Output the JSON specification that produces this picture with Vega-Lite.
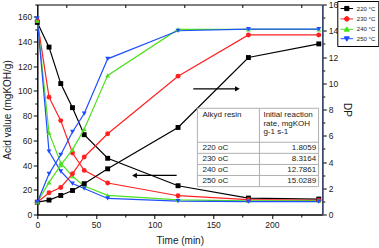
{
  "$schema": "https://vega.github.io/schema/vega-lite/v6.json",
  "width": 285,
  "height": 210,
  "autosize": "none",
  "padding": {"left": 37.3, "top": 4.5, "right": 56.7, "bottom": 33.5},
  "config": {
    "font": "Liberation Sans",
    "view": {"stroke": "black", "strokeWidth": 1},
    "axis": {
      "labelFont": "Liberation Sans",
      "titleFont": "Liberation Sans",
      "labelFontSize": 8.5,
      "titleFontSize": 10,
      "titleFontWeight": "normal",
      "labelColor": "#1a1a1a",
      "titleColor": "#1a1a1a",
      "domainColor": "black",
      "tickColor": "black",
      "grid": false,
      "labelOverlap": false,
      "labelFlush": false
    }
  },
  "datasets": {
    "curves": [
      {"t": 0, "series": "220 °C", "m": "acid", "v": 155.5},
      {"t": 10, "series": "220 °C", "m": "acid", "v": 135.5},
      {"t": 20, "series": "220 °C", "m": "acid", "v": 106},
      {"t": 30, "series": "220 °C", "m": "acid", "v": 86.5},
      {"t": 40, "series": "220 °C", "m": "acid", "v": 64.6},
      {"t": 60, "series": "220 °C", "m": "acid", "v": 45.5},
      {"t": 120, "series": "220 °C", "m": "acid", "v": 23.3},
      {"t": 180, "series": "220 °C", "m": "acid", "v": 13.3},
      {"t": 240, "series": "220 °C", "m": "acid", "v": 12.5},
      {"t": 0, "series": "230 °C", "m": "acid", "v": 157},
      {"t": 10, "series": "230 °C", "m": "acid", "v": 95},
      {"t": 20, "series": "230 °C", "m": "acid", "v": 76},
      {"t": 30, "series": "230 °C", "m": "acid", "v": 49.8},
      {"t": 40, "series": "230 °C", "m": "acid", "v": 35.7},
      {"t": 60, "series": "230 °C", "m": "acid", "v": 25.5},
      {"t": 120, "series": "230 °C", "m": "acid", "v": 15.2},
      {"t": 180, "series": "230 °C", "m": "acid", "v": 12},
      {"t": 240, "series": "230 °C", "m": "acid", "v": 11.5},
      {"t": 0, "series": "240 °C", "m": "acid", "v": 157},
      {"t": 10, "series": "240 °C", "m": "acid", "v": 66},
      {"t": 20, "series": "240 °C", "m": "acid", "v": 41.7},
      {"t": 30, "series": "240 °C", "m": "acid", "v": 31},
      {"t": 40, "series": "240 °C", "m": "acid", "v": 23},
      {"t": 60, "series": "240 °C", "m": "acid", "v": 15.5},
      {"t": 120, "series": "240 °C", "m": "acid", "v": 11.8},
      {"t": 180, "series": "240 °C", "m": "acid", "v": 11},
      {"t": 240, "series": "240 °C", "m": "acid", "v": 11},
      {"t": 0, "series": "250 °C", "m": "acid", "v": 158.5},
      {"t": 10, "series": "250 °C", "m": "acid", "v": 51},
      {"t": 20, "series": "250 °C", "m": "acid", "v": 35},
      {"t": 30, "series": "250 °C", "m": "acid", "v": 25},
      {"t": 40, "series": "250 °C", "m": "acid", "v": 21},
      {"t": 60, "series": "250 °C", "m": "acid", "v": 13},
      {"t": 120, "series": "250 °C", "m": "acid", "v": 10.8},
      {"t": 180, "series": "250 °C", "m": "acid", "v": 10.5},
      {"t": 240, "series": "250 °C", "m": "acid", "v": 10.5},
      {"t": 0, "series": "220 °C", "m": "dp", "v": 0.94},
      {"t": 10, "series": "220 °C", "m": "dp", "v": 1.1},
      {"t": 20, "series": "220 °C", "m": "dp", "v": 1.45},
      {"t": 30, "series": "220 °C", "m": "dp", "v": 1.83},
      {"t": 40, "series": "220 °C", "m": "dp", "v": 2.35},
      {"t": 60, "series": "220 °C", "m": "dp", "v": 3.48},
      {"t": 120, "series": "220 °C", "m": "dp", "v": 6.63},
      {"t": 180, "series": "220 °C", "m": "dp", "v": 11.96},
      {"t": 240, "series": "220 °C", "m": "dp", "v": 13.0},
      {"t": 0, "series": "230 °C", "m": "dp", "v": 0.94},
      {"t": 10, "series": "230 °C", "m": "dp", "v": 1.66},
      {"t": 20, "series": "230 °C", "m": "dp", "v": 2.06},
      {"t": 30, "series": "230 °C", "m": "dp", "v": 3.1},
      {"t": 40, "series": "230 °C", "m": "dp", "v": 4.38},
      {"t": 60, "series": "230 °C", "m": "dp", "v": 6.15},
      {"t": 120, "series": "230 °C", "m": "dp", "v": 10.54},
      {"t": 180, "series": "230 °C", "m": "dp", "v": 13.68},
      {"t": 240, "series": "230 °C", "m": "dp", "v": 13.68},
      {"t": 0, "series": "240 °C", "m": "dp", "v": 0.94},
      {"t": 10, "series": "240 °C", "m": "dp", "v": 2.45},
      {"t": 20, "series": "240 °C", "m": "dp", "v": 3.76},
      {"t": 30, "series": "240 °C", "m": "dp", "v": 4.94},
      {"t": 40, "series": "240 °C", "m": "dp", "v": 6.5},
      {"t": 60, "series": "240 °C", "m": "dp", "v": 10.6},
      {"t": 120, "series": "240 °C", "m": "dp", "v": 14.1},
      {"t": 180, "series": "240 °C", "m": "dp", "v": 14.1},
      {"t": 240, "series": "240 °C", "m": "dp", "v": 14.1},
      {"t": 0, "series": "250 °C", "m": "dp", "v": 0.94},
      {"t": 10, "series": "250 °C", "m": "dp", "v": 3.1},
      {"t": 20, "series": "250 °C", "m": "dp", "v": 4.55},
      {"t": 30, "series": "250 °C", "m": "dp", "v": 6.29},
      {"t": 40, "series": "250 °C", "m": "dp", "v": 7.69},
      {"t": 60, "series": "250 °C", "m": "dp", "v": 11.86},
      {"t": 120, "series": "250 °C", "m": "dp", "v": 14.0},
      {"t": 180, "series": "250 °C", "m": "dp", "v": 14.12},
      {"t": 240, "series": "250 °C", "m": "dp", "v": 14.12}
    ],
    "rates": [
      {"row": 1, "resin": "220 oC", "rate": "1.8059"},
      {"row": 2, "resin": "230 oC", "rate": "8.3164"},
      {"row": 3, "resin": "240 oC", "rate": "12.7861"},
      {"row": 4, "resin": "250 oC", "rate": "15.0289"}
    ],
    "legendkeys": [
      {"series": "220 °C"},
      {"series": "230 °C"},
      {"series": "240 °C"},
      {"series": "250 °C"}
    ],
    "one": [{}]
  },
  "resolve": {
    "scale": {"x": "independent", "y": "independent", "color": "independent", "shape": "independent", "fill": "independent", "stroke": "independent"}
  },
  "layer": [
    {
      "data": {"name": "curves"},
      "transform": [{"filter": "datum.m === 'acid'"}],
      "encoding": {
        "x": {
          "field": "t", "type": "quantitative",
          "scale": {"domain": [0, 243], "nice": false, "zero": false},
          "axis": {
            "orient": "bottom", "title": "Time (min)",
            "values": [0, 25, 50, 75, 100, 125, 150, 175, 200, 225],
            "labelExpr": "datum.value % 50 === 0 ? datum.label : ''",
            "tickSize": {"condition": {"test": "datum.value % 50 !== 0", "value": 2.5}, "value": 4},
            "labelPadding": 2, "titlePadding": 6
          }
        },
        "y": {
          "field": "v", "type": "quantitative",
          "scale": {"domain": [0, 170], "nice": false, "zero": false},
          "axis": {
            "orient": "left", "title": "Acid value (mgKOH/g)",
            "values": [0, 10, 20, 30, 40, 50, 60, 70, 80, 90, 100, 110, 120, 130, 140, 150, 160, 170],
            "labelExpr": "datum.value % 20 === 0 ? datum.label : ''",
            "tickSize": {"condition": {"test": "datum.value % 20 !== 0", "value": 2.5}, "value": 4},
            "labelPadding": 1.5, "titlePadding": 5
          }
        },
        "color": {
          "field": "series", "type": "nominal", "legend": null,
          "scale": {"domain": ["220 °C", "230 °C", "240 °C", "250 °C"], "range": ["#000000", "#ff2020", "#4de01f", "#1f4fff"]}
        }
      },
      "layer": [
        {"mark": {"type": "line", "strokeWidth": 1.2}},
        {
          "mark": {"type": "point", "filled": true, "opacity": 1, "size": 24},
          "encoding": {
            "shape": {
              "field": "series", "type": "nominal", "legend": null,
              "scale": {"domain": ["220 °C", "230 °C", "240 °C", "250 °C"], "range": ["square", "circle", "triangle-up", "triangle-down"]}
            }
          }
        }
      ]
    },
    {
      "data": {"name": "curves"},
      "transform": [{"filter": "datum.m === 'dp'"}],
      "encoding": {
        "x": {"field": "t", "type": "quantitative", "scale": {"domain": [0, 243], "nice": false, "zero": false}, "axis": null},
        "y": {
          "field": "v", "type": "quantitative",
          "scale": {"domain": [0, 16], "nice": false, "zero": false},
          "axis": {
            "orient": "right", "title": "DP", "titleAngle": 90,
            "values": [0, 1, 2, 3, 4, 5, 6, 7, 8, 9, 10, 11, 12, 13, 14, 15, 16],
            "labelExpr": "datum.value % 2 === 0 ? datum.label : ''",
            "tickSize": {"condition": {"test": "datum.value % 2 !== 0", "value": 2.5}, "value": 4},
            "domainColor": "#3a4a70", "domainWidth": 1.5,
            "labelPadding": 2, "titlePadding": 4
          }
        },
        "color": {
          "field": "series", "type": "nominal", "legend": null,
          "scale": {"domain": ["220 °C", "230 °C", "240 °C", "250 °C"], "range": ["#000000", "#ff2020", "#4de01f", "#1f4fff"]}
        }
      },
      "layer": [
        {"mark": {"type": "line", "strokeWidth": 1.2}},
        {
          "mark": {"type": "point", "filled": true, "opacity": 1, "size": 24},
          "encoding": {
            "shape": {
              "field": "series", "type": "nominal", "legend": null,
              "scale": {"domain": ["220 °C", "230 °C", "240 °C", "250 °C"], "range": ["square", "circle", "triangle-up", "triangle-down"]}
            }
          }
        }
      ]
    },
    {
      "layer": [
        {
          "data": {"name": "one"},
          "mark": {"type": "rect", "fill": "white", "stroke": "#b0b0b0", "strokeWidth": 1},
          "encoding": {
            "x": {"datum": 136.5, "type": "quantitative", "scale": {"domain": [0, 243], "nice": false, "zero": false}, "axis": null},
            "x2": {"datum": 239.8},
            "y": {"datum": -2.56, "type": "quantitative", "scale": {"domain": [-11.91, 7.01], "reverse": true, "nice": false, "zero": false}, "axis": null},
            "y2": {"datum": 4.5}
          }
        },
        {
          "data": {"name": "one"},
          "mark": {"type": "rule", "stroke": "#b0b0b0", "strokeWidth": 1},
          "encoding": {
            "x": {"datum": 189.4, "type": "quantitative", "axis": null},
            "y": {"datum": -2.56, "type": "quantitative", "axis": null},
            "y2": {"datum": 4.5}
          }
        },
        {
          "data": {"name": "rates"},
          "mark": {"type": "rule", "stroke": "#b0b0b0", "strokeWidth": 1, "yOffset": -5.55},
          "encoding": {
            "x": {"datum": 136.5, "type": "quantitative", "axis": null},
            "x2": {"datum": 239.8},
            "y": {"field": "row", "type": "quantitative", "axis": null}
          }
        },
        {
          "data": {"name": "one"},
          "mark": {"type": "text", "text": "Alkyd resin", "align": "left", "baseline": "alphabetic", "fontSize": 8, "font": "Liberation Sans", "color": "#1a1a1a"},
          "encoding": {
            "x": {"datum": 140.8, "type": "quantitative", "axis": null},
            "y": {"datum": -1.73, "type": "quantitative", "axis": null}
          }
        },
        {
          "data": {"name": "one"},
          "mark": {"type": "text", "text": "Initial reaction\nrate, mgKOH\ng-1 s-1", "lineBreak": "\n", "lineHeight": 8.2, "align": "left", "baseline": "alphabetic", "fontSize": 8, "font": "Liberation Sans", "color": "#1a1a1a"},
          "encoding": {
            "x": {"datum": 192.8, "type": "quantitative", "axis": null},
            "y": {"datum": -1.73, "type": "quantitative", "axis": null}
          }
        },
        {
          "data": {"name": "rates"},
          "mark": {"type": "text", "align": "left", "baseline": "middle", "fontSize": 8, "font": "Liberation Sans", "color": "#1a1a1a"},
          "encoding": {
            "x": {"datum": 140.8, "type": "quantitative", "axis": null},
            "y": {"field": "row", "type": "quantitative", "axis": null},
            "text": {"field": "resin"}
          }
        },
        {
          "data": {"name": "rates"},
          "mark": {"type": "text", "align": "right", "baseline": "middle", "fontSize": 8, "font": "Liberation Sans", "color": "#1a1a1a"},
          "encoding": {
            "x": {"datum": 237.8, "type": "quantitative", "axis": null},
            "y": {"field": "row", "type": "quantitative", "axis": null},
            "text": {"field": "rate"}
          }
        },
        {
          "data": {"name": "legendkeys"},
          "mark": {"type": "point", "clip": true, "opacity": 1, "filled": true, "size": 70, "strokeWidth": 1},
          "encoding": {
            "x": {"datum": -50, "type": "quantitative", "axis": null},
            "y": {"datum": -50, "type": "quantitative", "axis": null},
            "fill": {
              "field": "series", "type": "nominal",
              "scale": {"domain": ["220 °C", "230 °C", "240 °C", "250 °C"], "range": ["#000000", "#ff2020", "#4de01f", "#1f4fff"]},
              "legend": {
                "orient": "none", "legendX": 300, "legendY": -3.5, "title": null,
                "fillColor": "white", "strokeColor": "black", "padding": 2.5, "rowPadding": 0.4,
                "labelFontSize": 6, "labelFont": "Liberation Sans", "labelColor": "#1a1a1a", "labelOffset": 5,
                "symbolSize": 70, "symbolStrokeWidth": 1, "symbolOffset": 2
              }
            },
            "stroke": {
              "field": "series", "type": "nominal",
              "scale": {"domain": ["220 °C", "230 °C", "240 °C", "250 °C"], "range": ["#000000", "#ff2020", "#4de01f", "#1f4fff"]}
            },
            "shape": {
              "field": "series", "type": "nominal",
              "scale": {
                "domain": ["220 °C", "230 °C", "240 °C", "250 °C"],
                "range": [
                  "M-1.5,0H1.5M-0.5,-0.5H0.5V0.5H-0.5Z",
                  "M-1.5,0H1.5M-0.55,0A0.55,0.55,0,1,0,0.55,0A0.55,0.55,0,1,0,-0.55,0Z",
                  "M-1.5,0H1.5M0,-0.6L0.6,0.45L-0.6,0.45Z",
                  "M-1.5,0H1.5M0,0.6L0.6,-0.45L-0.6,-0.45Z"
                ]
              }
            }
          }
        }
      ]
    },
    {
      "layer": [
        {
          "data": {"name": "one"},
          "mark": {"type": "rule", "stroke": "black", "strokeWidth": 1.3},
          "encoding": {
            "x": {
              "datum": 83, "type": "quantitative",
              "scale": {"domain": [0, 243], "nice": false, "zero": false},
              "axis": {"orient": "top", "title": null, "labels": false, "domain": false,
                       "values": [25, 50, 75, 100, 125, 150, 175, 200, 225], "tickSize": -3}
            },
            "x2": {"datum": 118.8},
            "y": {"datum": 31.6, "type": "quantitative", "scale": {"domain": [0, 170], "nice": false, "zero": false}, "axis": null}
          }
        },
        {
          "data": {"name": "one"},
          "mark": {"type": "point", "shape": "triangle-left", "filled": true, "color": "black", "opacity": 1, "size": 30},
          "encoding": {
            "x": {"datum": 82.9, "type": "quantitative"},
            "y": {"datum": 31.6, "type": "quantitative"}
          }
        },
        {
          "data": {"name": "one"},
          "mark": {"type": "rule", "stroke": "black", "strokeWidth": 1.3},
          "encoding": {
            "x": {"datum": 133, "type": "quantitative"},
            "x2": {"datum": 170.6},
            "y": {"datum": 101.7, "type": "quantitative"}
          }
        },
        {
          "data": {"name": "one"},
          "mark": {"type": "point", "shape": "triangle-right", "filled": true, "color": "black", "opacity": 1, "size": 30},
          "encoding": {
            "x": {"datum": 170.6, "type": "quantitative"},
            "y": {"datum": 101.7, "type": "quantitative"}
          }
        }
      ]
    }
  ]
}
